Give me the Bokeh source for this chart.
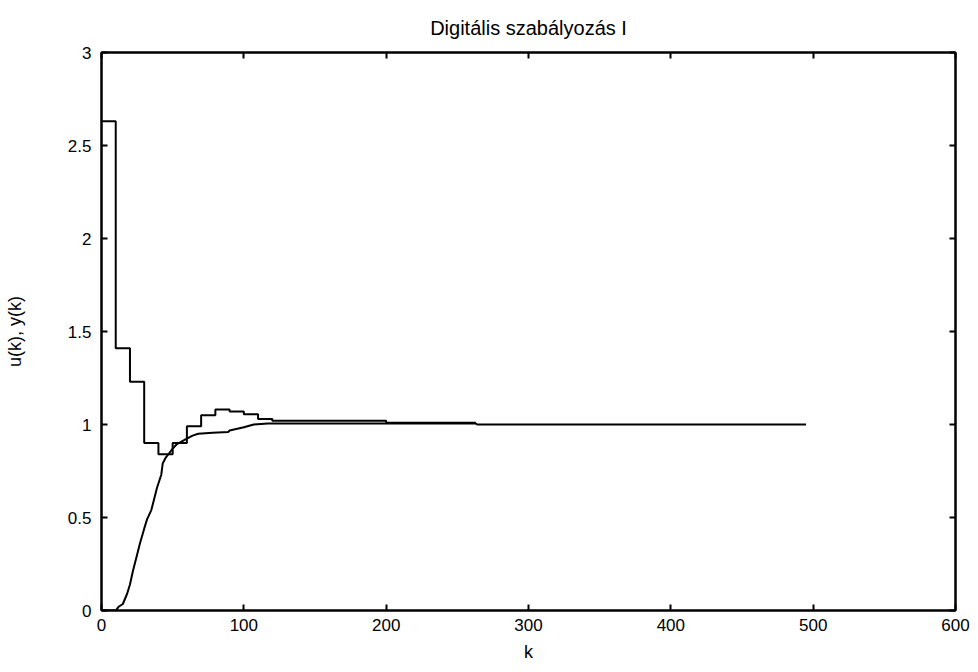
from bokeh.plotting import figure
from bokeh.models import Range1d, LinearAxis, FixedTicker, Title, CustomJSTickFormatter
from bokeh.embed import file_html
from bokeh.resources import INLINE

# ---- data ----
# u(k): control signal, piecewise constant (held for 10 samples)
u_k = [0, 10, 20, 30, 40, 50, 60, 70, 80, 90, 100, 110, 120, 200, 263]
u_val = [2.63, 1.41, 1.23, 0.90, 0.84, 0.90, 0.99, 1.05, 1.08, 1.07, 1.055, 1.03, 1.02, 1.01, 1.01]

# y(k): plant output
y_k = [0, 10, 12, 15, 18, 20, 22, 25, 27, 30, 32, 35, 37, 39, 42, 43, 45, 47, 50,
       53, 59, 64, 68, 78, 89, 90, 100, 107, 117, 263, 264, 495]
y_val = [0, 0, 0.02, 0.035, 0.09, 0.14, 0.21, 0.30, 0.36, 0.44, 0.49, 0.54, 0.60, 0.66,
         0.73, 0.79, 0.82, 0.84, 0.87, 0.895, 0.92, 0.94, 0.95, 0.955, 0.96, 0.968,
         0.985, 1.0, 1.005, 1.005, 1.0, 1.0]

x_ticks = [0, 100, 200, 300, 400, 500, 600]
y_ticks = [0, 0.5, 1, 1.5, 2, 2.5, 3]
y_tick_labels = ["0", "0.5", "1", "1.5", "2", "2.5", "3"]

title_text = "Digitális szabályozás I"
x_label = "k"
y_label = "u(k), y(k)"

FONT = "Liberation Sans"

p = figure(width=978, height=672, output_backend="svg", toolbar_location=None,
           x_range=Range1d(0, 600), y_range=Range1d(0, 3),
           min_border_left=101, min_border_right=23, min_border_top=52, min_border_bottom=62)
p.title = Title(text=title_text, align="center", text_font=FONT, text_font_size="20px",
                text_font_style="normal", text_color="black", standoff=28)
p.background_fill_color = "white"
p.border_fill_color = "white"
p.outline_line_color = "black"
p.outline_line_width = 2
p.xgrid.visible = False
p.ygrid.visible = False

p.step(u_k, u_val, mode="after", line_color="black", line_width=2)
p.line(y_k, y_val, line_color="black", line_width=2)

ovr = {t: s for t, s in zip(y_ticks, y_tick_labels)}

def style(ax):
    ax.axis_line_color = "black"
    ax.axis_line_width = 2
    ax.major_tick_in = 6
    ax.major_tick_out = 0
    ax.major_tick_line_width = 2
    ax.minor_tick_line_color = None
    ax.major_label_text_font = FONT
    ax.major_label_text_font_size = "17px"
    ax.major_label_text_color = "black"
    ax.axis_label_text_font = FONT
    ax.axis_label_text_font_size = "18px"
    ax.axis_label_text_font_style = "normal"
    ax.axis_label_text_color = "black"

xa = p.xaxis[0]
xa.ticker = FixedTicker(ticks=x_ticks)
xa.axis_label = x_label
xa.major_label_standoff = 8
xa.axis_label_standoff = 8
style(xa)

ya = p.yaxis[0]
ya.ticker = FixedTicker(ticks=y_ticks)
ya.major_label_overrides = ovr
ya.axis_label = y_label
ya.major_label_standoff = 10
ya.axis_label_standoff = 40
style(ya)

blank = CustomJSTickFormatter(code="return ''")
top = LinearAxis(ticker=FixedTicker(ticks=x_ticks), formatter=blank)
style(top)
top.major_label_standoff = 0
p.add_layout(top, "above")
right = LinearAxis(ticker=FixedTicker(ticks=y_ticks), formatter=blank)
style(right)
right.major_label_standoff = 0
p.add_layout(right, "right")

open("out.html", "w").write(file_html(p, INLINE))
